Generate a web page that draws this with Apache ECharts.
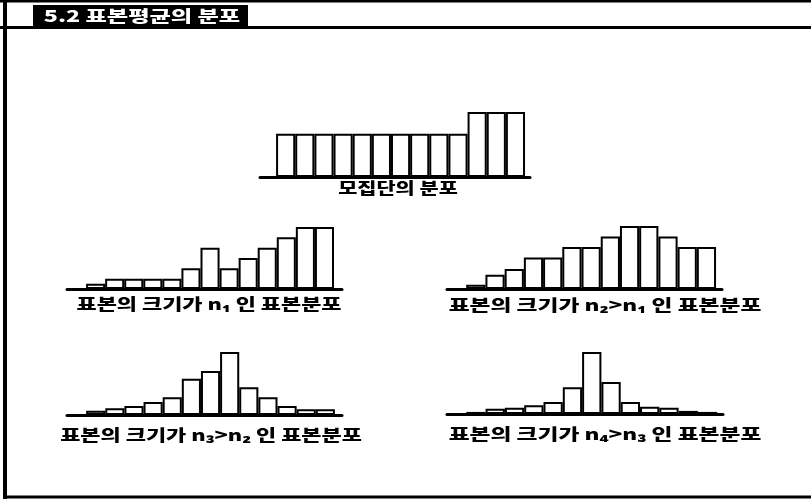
<!DOCTYPE html>
<html>
<head>
<meta charset="utf-8">
<script src="https://cdn.jsdelivr.net/npm/echarts@6/dist/echarts.min.js"></script>
<style>
  html, body { margin: 0; padding: 0; background: #fff; }
  #chart { width: 811px; height: 501px; }
</style>
</head>
<body>
<div id="chart"></div>
<script>
// Bin positions shared by every histogram (13 class intervals)
const binIndex = [1, 2, 3, 4, 5, 6, 7, 8, 9, 10, 11, 12, 13];

// Relative heights of each bar (tallest bar = 12)
const population = [8, 8, 8, 8, 8, 8, 8, 8, 8, 8, 12, 12, 12];
const sampleN1   = [1, 2, 2, 2, 2, 4, 8, 4, 6, 8, 10, 12, 12];
const sampleN2   = [0.8, 2.7, 3.8, 6, 6, 8, 8, 10, 12, 12, 10, 8, 8];
const sampleN3   = [0.8, 1.3, 1.7, 2.5, 3.4, 6.9, 8.4, 12, 5.3, 3.4, 1.7, 1.1, 1.1];
const sampleN4   = [0.4, 1, 1.2, 1.7, 2.3, 5.2, 12, 6.2, 2.3, 1.4, 1.2, 0.6, 0.4];

// Texts
const headingText = '5.2 표본평균의 분포';
const captions = [
  '모집단의 분포',
  '표본의 크기가 n₁ 인 표본분포',
  '표본의 크기가 n₂>n₁ 인 표본분포',
  '표본의 크기가 n₃>n₂ 인 표본분포',
  '표본의 크기가 n₄>n₃ 인 표본분포'
];

const seriesData = [population, sampleN1, sampleN2, sampleN3, sampleN4];

// Panel layout: grid box, x-range of the baseline, caption anchor and stretch
const panels = [
  { left: 260, top: 112, width: 270, height: 65, xMin: -0.34, xMax: 13.76, cx: 398, cy: 188, sx: 1.3 },
  { left: 67,  top: 227, width: 275, height: 62, xMin: -0.5,  xMax: 13.92, cx: 209, cy: 304, sx: 1.37 },
  { left: 447, top: 226, width: 275, height: 63, xMin: -0.5,  xMax: 13.81, cx: 605, cy: 305, sx: 1.42 },
  { left: 67,  top: 352, width: 275, height: 63, xMin: -0.5,  xMax: 13.87, cx: 211, cy: 435, sx: 1.37 },
  { left: 447, top: 352, width: 276, height: 62, xMin: -0.5,  xMax: 13.8,  cx: 605, cy: 434, sx: 1.42 }
];

const FONT = '"Noto Sans CJK KR", "Noto Sans", sans-serif';

const grid = panels.map(p => ({ left: p.left, top: p.top, width: p.width, height: p.height }));

const xAxis = panels.map((p, i) => ({
  type: 'value',
  gridIndex: i,
  min: p.xMin,
  max: p.xMax,
  axisLine: { show: true, onZero: false, lineStyle: { color: '#000', width: 3 } },
  axisTick: { show: false },
  axisLabel: { show: false },
  splitLine: { show: false }
}));

const yAxis = panels.map((p, i) => ({
  type: 'value',
  gridIndex: i,
  min: 0,
  max: 12,
  show: false,
  splitLine: { show: false }
}));

const series = seriesData.map((vals, i) => ({
  type: 'bar',
  xAxisIndex: i,
  yAxisIndex: i,
  barCategoryGap: '0%',
  silent: true,
  data: binIndex.map((b, k) => [b, vals[k]]),
  itemStyle: { color: '#fff', borderColor: '#000', borderWidth: 2 }
}));

const captionGraphics = panels.map((p, i) => ({
  type: 'text',
  x: p.cx,
  y: p.cy,
  scaleX: p.sx,
  style: {
    text: captions[i],
    font: '900 16px ' + FONT,
    fill: '#000',
    align: 'center',
    verticalAlign: 'middle'
  }
}));

const frameGraphics = [
  // outer frame
  { type: 'line', shape: { x1: 0, y1: 1, x2: 811, y2: 1 }, style: { stroke: '#000', lineWidth: 3 } },
  { type: 'line', shape: { x1: 5, y1: 0, x2: 5, y2: 499 }, style: { stroke: '#000', lineWidth: 4 } },
  { type: 'line', shape: { x1: 3, y1: 497, x2: 811, y2: 497 }, style: { stroke: '#000', lineWidth: 3 } },
  { type: 'line', shape: { x1: 0, y1: 27.5, x2: 811, y2: 27.5 }, style: { stroke: '#000', lineWidth: 3 } },
  // heading box
  { type: 'rect', shape: { x: 33, y: 5, width: 215, height: 23 }, style: { fill: '#000' } },
  {
    type: 'text',
    x: 142, y: 16,
    scaleX: 1.45,
    style: {
      text: headingText,
      font: '900 16px ' + FONT,
      fill: '#fff',
      align: 'center',
      verticalAlign: 'middle'
    }
  }
];

const chart = echarts.init(document.getElementById('chart'), null, { renderer: 'canvas' });
chart.setOption({
  animation: false,
  backgroundColor: '#fff',
  grid,
  xAxis,
  yAxis,
  series,
  graphic: frameGraphics.concat(captionGraphics)
});
</script>
</body>
</html>
